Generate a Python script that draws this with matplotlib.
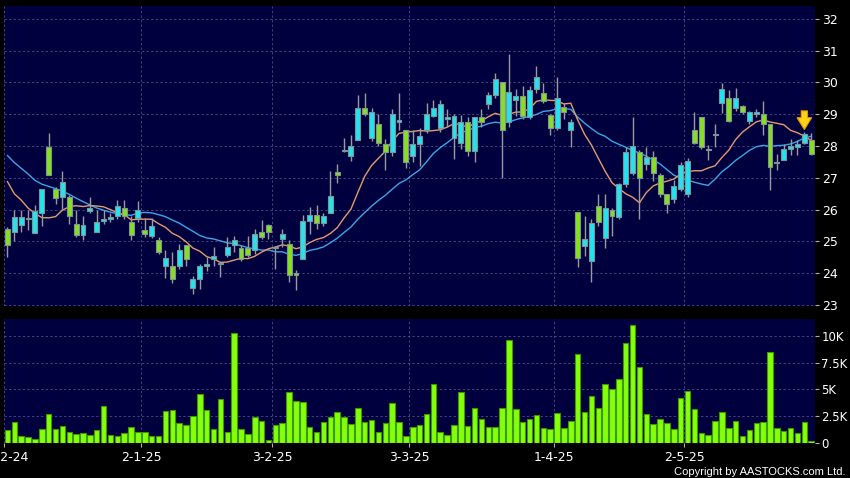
import matplotlib
matplotlib.use('Agg')
import matplotlib.pyplot as plt
import numpy as np
import pandas as pd

# daily candles, 2 Dec 2024 .. 29 May 2025 (one entry per trading day)
opens = [25.40, 25.30, 25.52, 25.71, 25.27, 25.90, 27.98, 26.66, 26.40, 26.40,
         25.55, 25.21, 25.96, 25.30, 25.63, 25.71, 25.79, 26.05, 25.60, 25.73,
         25.37, 25.17, 25.03, 24.23, 24.23, 24.23, 24.90, 23.54, 23.83, 24.22,
         24.46, 24.28, 24.58, 24.90, 24.80, 24.79, 24.74, 25.29, 25.53, 24.78,
         25.07, 24.91, 23.97, 24.46, 25.63, 25.83, 25.57, 25.90, 27.17, 27.84,
         27.67, 28.19, 29.20, 28.26, 28.68, 28.05, 27.81, 28.76, 28.50, 27.70,
         28.07, 28.51, 28.95, 28.56, 28.84, 28.25, 28.09, 28.74, 27.85, 28.91,
         29.32, 29.61, 30.00, 28.74, 29.45, 29.58, 28.91, 29.79, 29.68, 28.98,
         28.56, 29.24, 28.49, 25.91, 24.86, 24.39, 26.11, 25.12, 25.99, 25.78,
         26.82, 27.16, 27.80, 27.42, 27.66, 27.10, 26.50, 26.32, 26.64, 26.48,
         28.49, 28.91, 27.87, 28.34, 29.34, 29.50, 29.19, 29.26, 28.80, 29.01,
         29.00, 28.70, 27.45, 27.57, 27.92, 27.97, 28.09, 28.20]
highs = [25.45, 25.98, 25.98, 25.98, 26.13, 26.65, 28.42, 26.70, 27.22, 26.47,
         26.00, 25.81, 26.40, 25.98, 25.98, 25.90, 26.31, 26.31, 25.79, 26.26,
         25.73, 25.73, 25.13, 24.72, 24.66, 24.93, 24.90, 23.90, 24.30, 24.51,
         24.82, 24.40, 25.13, 25.17, 24.90, 25.17, 25.40, 25.68, 25.55, 24.87,
         25.40, 25.03, 24.09, 25.83, 26.07, 26.15, 25.90, 27.22, 27.43, 28.24,
         28.33, 29.61, 29.67, 29.20, 28.99, 28.21, 29.15, 29.67, 28.50, 28.50,
         28.56, 29.35, 29.43, 29.45, 29.16, 29.01, 28.98, 28.91, 28.91, 29.16,
         29.71, 30.29, 30.00, 30.90, 29.79, 29.87, 29.87, 30.50, 29.97, 29.00,
         30.18, 29.34, 28.84, 25.91, 25.80, 25.72, 26.48, 26.48, 26.06, 26.85,
         27.97, 28.91, 27.86, 27.97, 27.83, 27.15, 26.50, 26.93, 27.50, 27.63,
         29.08, 28.91, 28.02, 28.69, 29.99, 29.76, 29.81, 29.30, 29.10, 29.16,
         29.40, 28.70, 27.76, 28.07, 28.22, 28.20, 28.45, 28.41]
lows = [24.52, 25.01, 25.29, 25.37, 25.27, 25.50, 27.08, 26.17, 25.98, 25.55,
        25.15, 25.04, 25.90, 25.30, 25.56, 25.62, 25.71, 25.71, 25.04, 25.60,
        25.13, 25.10, 24.60, 23.86, 23.68, 24.12, 24.23, 23.36, 23.52, 24.06,
        24.23, 23.88, 24.50, 24.66, 24.40, 24.50, 24.60, 25.08, 25.08, 24.14,
        24.82, 23.73, 23.47, 24.46, 25.24, 25.40, 25.50, 25.90, 26.83, 27.81,
        27.53, 28.19, 28.95, 28.15, 27.99, 27.25, 27.70, 28.50, 27.32, 27.50,
        27.38, 28.40, 28.90, 28.45, 28.59, 27.59, 27.90, 27.69, 27.51, 28.60,
        29.16, 29.50, 26.99, 28.60, 28.95, 28.85, 28.85, 29.66, 29.35, 28.35,
        28.50, 28.84, 27.97, 24.19, 24.55, 23.72, 25.47, 24.78, 25.16, 25.70,
        26.72, 27.10, 25.72, 27.26, 26.90, 26.40, 25.89, 26.22, 26.60, 26.40,
        28.05, 27.90, 27.55, 27.97, 29.05, 28.75, 29.10, 29.00, 28.70, 28.90,
        28.36, 26.61, 27.24, 27.55, 27.73, 27.73, 28.05, 27.73]
closes = [24.90, 25.77, 25.77, 25.75, 25.96, 26.65, 27.08, 26.37, 26.86, 25.81,
          25.20, 25.52, 26.06, 25.61, 25.71, 25.77, 26.10, 25.81, 25.21, 25.98,
          25.23, 25.48, 24.67, 24.48, 23.83, 24.74, 24.46, 23.83, 24.23, 24.28,
          24.54, 24.32, 24.82, 25.06, 24.46, 24.58, 25.22, 25.13, 25.29, 24.80,
          25.24, 23.96, 23.96, 25.63, 25.83, 25.58, 25.79, 26.42, 27.10, 27.87,
          28.00, 29.20, 29.02, 29.06, 28.08, 27.81, 29.01, 28.81, 27.50, 28.07,
          28.30, 29.01, 29.19, 29.31, 28.90, 28.93, 28.74, 27.85, 28.91, 28.74,
          29.61, 30.10, 28.51, 29.69, 29.58, 28.95, 29.76, 30.16, 29.42, 28.56,
          29.50, 29.08, 28.74, 24.47, 25.07, 25.57, 25.61, 26.06, 25.80, 26.79,
          27.80, 27.99, 27.00, 27.66, 27.16, 26.50, 26.17, 26.74, 27.39, 27.52,
          28.09, 27.97, 27.88, 28.35, 29.78, 28.80, 29.50, 29.08, 29.06, 29.06,
          28.70, 27.34, 27.46, 27.91, 27.99, 28.07, 28.39, 27.76]
# volume, thousands of shares
volume_k = [1.24, 2.00, 0.70, 0.60, 0.37, 1.33, 2.67, 1.27, 1.55, 1.00,
            0.84, 0.93, 0.75, 1.24, 3.50, 0.71, 0.62, 0.93, 1.46, 1.00,
            1.02, 0.68, 0.62, 2.98, 3.07, 1.86, 1.71, 2.48, 4.57, 3.10,
            1.34, 4.10, 1.06, 10.25, 1.30, 0.87, 2.45, 2.02, 0.24, 1.66,
            1.86, 4.80, 3.94, 3.80, 1.49, 1.06, 1.93, 2.42, 2.89, 2.42,
            1.80, 3.26, 1.99, 2.11, 1.02, 1.86, 3.76, 1.93, 0.62, 1.49,
            1.71, 2.73, 5.53, 1.02, 0.71, 1.71, 4.72, 1.61, 3.26, 2.27,
            1.49, 1.49, 3.26, 9.63, 3.14, 1.93, 2.20, 2.58, 1.37, 1.34,
            2.80, 1.37, 2.02, 8.32, 2.86, 4.35, 3.23, 5.53, 5.06, 5.96,
            9.32, 11.02, 7.08, 2.67, 1.80, 2.27, 1.83, 1.34, 4.16, 4.88,
            3.20, 0.93, 0.75, 2.08, 2.86, 1.40, 2.02, 0.62, 1.24, 1.83,
            1.99, 8.54, 1.40, 1.12, 1.40, 0.96, 1.99, 0.16]
# moving averages for the first days (window reaches before the shown period)
ma10_head = [26.88, 26.50, 26.30, 26.05, 25.88, 25.75, 25.74, 25.78, 25.98]
ma20_head = [27.70, 27.48, 27.30, 27.12, 26.92, 26.80, 26.73, 26.66, 26.58, 26.48,
             26.36, 26.25, 26.15, 26.05, 25.98, 25.92, 25.87, 25.84, 25.82]

month_pos = [-0.5, 19.5, 38.5, 58.5, 79.5, 98.5]
month_labels = ['2-12-24', '2-1-25', '3-2-25', '3-3-25', '1-4-25', '2-5-25']
price_ticks = [23, 24, 25, 26, 27, 28, 29, 30, 31, 32]
vol_ticks = [0, 2.5, 5, 7.5, 10]
vol_labels = ['0', '2.5K', '5K', '7.5K', '10K']
arrow_day = 116

# moving averages
close_s = pd.Series(closes)
ma10 = close_s.rolling(10).mean().values
ma20 = close_s.rolling(20).mean().values
ma10[:len(ma10_head)] = ma10_head
ma20[:len(ma20_head)] = ma20_head

bg = '#00003f'
grid_kw = dict(color='#56568c', linestyle=(0, (3, 3)), linewidth=0.55)
up_col = '#22e3f0'
dn_col = '#86e020'

fig = plt.figure(figsize=(8.5, 4.78), dpi=100, facecolor='black')
ax = fig.add_axes([4 / 850, 1 - 306 / 478, 811 / 850, 300 / 478], facecolor=bg)
axv = fig.add_axes([4 / 850, 1 - 443 / 478, 811 / 850, 124 / 478], facecolor=bg)

x = np.arange(len(closes))
o = np.array(opens)
c = np.array(closes)
is_up = c >= o
body_bot = np.minimum(o, c)
body_h = np.maximum(np.abs(c - o), 0.04)
colors = [up_col if u else dn_col for u in is_up]

# price panel
for p in price_ticks:
    ax.axhline(p, zorder=0, **grid_kw)
for m in month_pos:
    ax.axvline(m, zorder=0, **grid_kw)
ax.plot(x, ma20, color='#3aa6e6', linewidth=1.0, zorder=2)
ax.plot(x, ma10, color='#e49a6c', linewidth=1.0, zorder=2)
ax.vlines(x, lows, highs, color='#9a9a9a', linewidth=1.0, zorder=3)
ax.bar(x, body_h, bottom=body_bot, width=0.72, color=colors,
       edgecolor='#7f9595', linewidth=0.8, zorder=4)
ax.annotate('', xy=(arrow_day, highs[arrow_day] - 0.02),
            xytext=(arrow_day, highs[arrow_day] + 0.74),
            arrowprops=dict(arrowstyle='simple,head_width=1.05,head_length=0.85,tail_width=0.45',
                            mutation_scale=10, fc='#ffd21a', ec='#e39a00', lw=0.8),
            zorder=6)

ax.set_xlim(-0.5, 117.55)
ax.set_ylim(22.97, 32.4)
ax.yaxis.tick_right()
ax.set_yticks(price_ticks)
ax.set_yticklabels([str(p) for p in price_ticks])
ax.tick_params(axis='y', direction='out', length=3, width=0.8, pad=2,
               color='#b0b0b0', labelcolor='white', labelsize=9)
ax.set_xticks([])
for s in ax.spines.values():
    s.set_visible(False)

# volume panel
for v in vol_ticks[1:]:
    axv.axhline(v, zorder=0, **grid_kw)
for m in month_pos:
    axv.axvline(m, zorder=0, **grid_kw)
axv.bar(x, volume_k, width=0.8, color='#84ff0c', edgecolor='#3c9a00',
        linewidth=0.8, zorder=3)
axv.set_xlim(-0.5, 117.55)
axv.set_ylim(0, 11.58)
axv.yaxis.tick_right()
axv.set_yticks(vol_ticks)
axv.set_yticklabels(vol_labels)
axv.set_xticks(month_pos)
axv.set_xticklabels(month_labels)
axv.tick_params(axis='y', direction='out', length=3, width=0.8, pad=1.5,
                color='#b0b0b0', labelcolor='white', labelsize=8.5)
axv.tick_params(axis='x', direction='out', length=3, width=0.8, pad=3,
                color='#b0b0b0', labelcolor='white', labelsize=9)
for s in axv.spines.values():
    s.set_visible(False)

fig.text(0.995, 0.013, 'Copyright by AASTOCKS.com Ltd.', color='white',
         fontsize=8, family=['Liberation Sans', 'DejaVu Sans'],
         ha='right', va='center')

fig.savefig('out.png', dpi=100, facecolor='black')
